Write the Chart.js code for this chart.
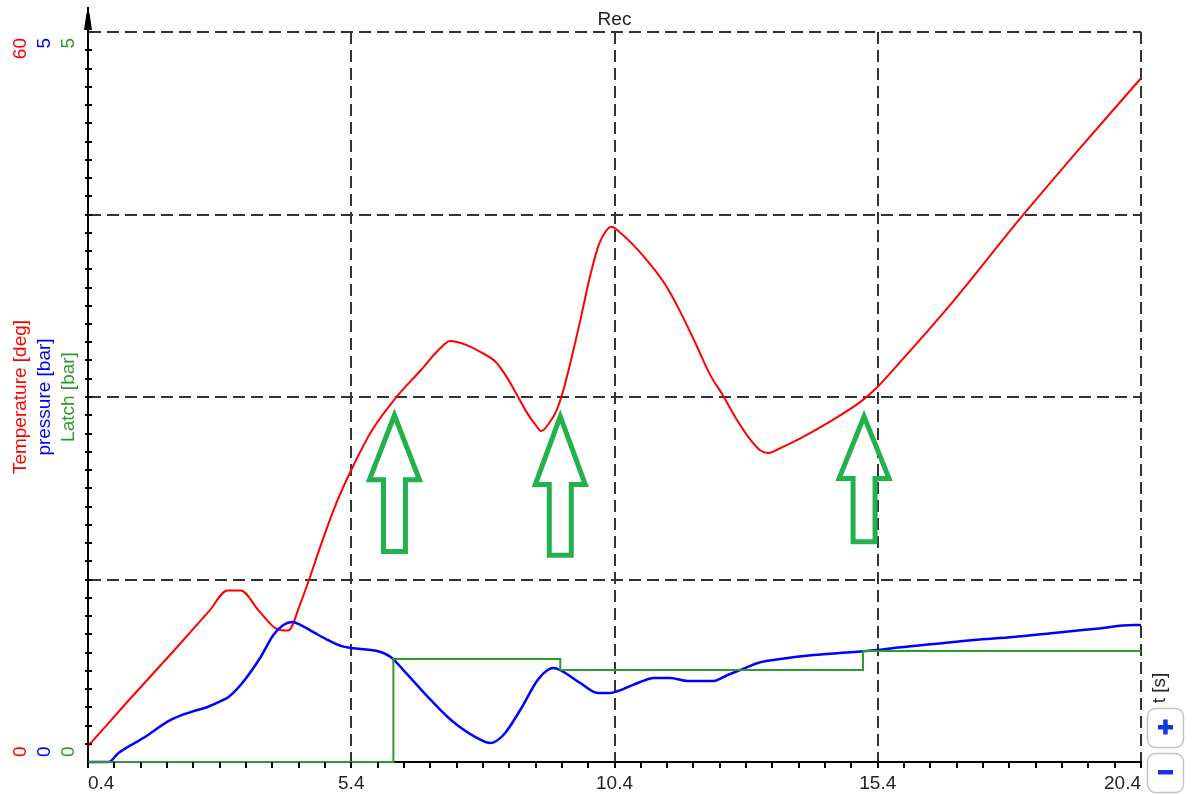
<!DOCTYPE html>
<html>
<head>
<meta charset="utf-8">
<script src="https://cdn.jsdelivr.net/npm/chart.js@4.4.0/dist/chart.umd.min.js"></script>
<style>
  html, body { margin: 0; padding: 0; background: #fff; overflow: hidden; }
  canvas { display: block; }
</style>
</head>
<body>
<canvas id="rec" width="1194" height="794"></canvas>
<script>
// Recorded channels: time in seconds
const tempTime = [0.4, 1.2, 2.0, 2.7, 3.05, 3.3, 3.65, 4.0, 4.2, 4.44, 4.6, 4.82, 5.1, 5.4, 5.8, 6.24,
  6.72, 7.09, 7.28, 7.57, 7.85, 8.14, 8.33, 8.52, 8.71, 8.9, 9.01, 9.15, 9.3, 9.43, 9.6, 9.75, 9.94,
  10.1, 10.23, 10.34, 10.51, 10.8, 11.08, 11.37, 11.65, 11.94, 12.22, 12.45, 12.7, 12.98, 13.17, 13.32,
  13.55, 13.93, 14.5, 15.07, 15.39, 15.83, 16.78, 18.11, 19.25, 20.4];
const tempValues = [1.3, 5.2, 9.0, 12.4, 14.1, 14.1, 12.4, 10.9, 10.8, 13.1, 15.0, 17.8, 21.1, 24.0, 27.3, 29.9,
  32.2, 34.0, 34.6, 34.3, 33.7, 32.9, 31.8, 30.4, 28.9, 27.7, 27.2, 27.8, 28.9, 30.6, 33.5, 36.3, 40.0,
  42.5, 43.6, 44.0, 43.5, 42.3, 40.9, 39.2, 37.0, 34.4, 31.8, 30.2, 28.3, 26.5, 25.6, 25.4,
  25.8, 26.6, 28.0, 29.6, 30.8, 32.9, 37.6, 44.7, 50.5, 56.2];

const pressTime = [0.4, 0.79, 0.98, 1.45, 1.97, 2.35, 2.67, 2.97, 3.07, 3.33, 3.68, 3.92, 4.11, 4.28, 4.44,
  4.68, 4.95, 5.2, 5.39, 5.58, 5.96, 6.15, 6.39, 6.91, 7.34, 7.86, 8.04, 8.29, 8.61, 8.94, 9.13, 9.24,
  9.37, 9.75, 10.08, 10.32, 10.46, 10.89, 11.14, 11.46, 11.79, 12.28, 12.55, 12.93, 13.12, 13.55, 14.18,
  14.94, 15.39, 15.7, 16.46, 17.22, 17.98, 18.74, 19.5, 20.26, 20.4];
const pressValues = [0, 0, 0.062, 0.164, 0.288, 0.342, 0.377, 0.425, 0.445, 0.541, 0.719, 0.87, 0.938, 0.959, 0.938,
  0.89, 0.836, 0.795, 0.781, 0.774, 0.753, 0.719, 0.63, 0.425, 0.274, 0.151, 0.13, 0.185, 0.356, 0.562, 0.63, 0.644,
  0.63, 0.541, 0.473, 0.473, 0.486, 0.548, 0.575, 0.575, 0.555, 0.555, 0.596, 0.651, 0.678, 0.705, 0.733,
  0.753, 0.767, 0.781, 0.808, 0.836, 0.856, 0.884, 0.911, 0.938, 0.938];

const latchTime = [0.4, 6.2, 9.37, 15.12, 20.4];
const latchValues = [0, 0.705, 0.63, 0.76, 0.76];

// Axis ticks
const timeTicks = [0.4, 5.4, 10.4, 15.4, 20.4];
const tempTicks = [0, 60];
const barTicks = [0, 5];

// Hollow arrow markers (time, temperature of tip / neck / tail)
const markerTime = [6.22, 9.37, 15.14];
const markerTip = [28.5, 28.4, 28.4];
const markerNeck = [23.2, 22.8, 23.3];
const markerTail = [17.3, 17.0, 18.1];

const FONT = '"Liberation Sans", Arial, sans-serif';
const RED = '#ff0000', BLUE = '#0000ff', GREEN = '#2e9a2e';

const pairs = (xs, ys) => xs.map((x, i) => ({ x, y: ys[i] }));

const decor = {
  id: 'decor',
  afterDraw(chart) {
    const { ctx, chartArea: a, scales } = chart;
    const xs = scales.x, yT = scales.yT, yP = scales.yP;
    ctx.save();

    // minor ticks on the time axis (every 0.5 s)
    ctx.strokeStyle = '#000';
    ctx.lineWidth = 2;
    ctx.beginPath();
    for (let i = 0; i <= 40; i++) {
      const px = Math.round(xs.getPixelForValue(timeTicks[0] + i * 0.5));
      ctx.moveTo(px, a.bottom);
      ctx.lineTo(px, a.bottom + 6);
    }
    // minor ticks on the value axis (10 per division)
    for (let i = 1; i < 40; i++) {
      const py = Math.round(yT.getPixelForValue(i * 1.5));
      ctx.moveTo(a.left - 3, py);
      ctx.lineTo(a.left + 4, py);
    }
    ctx.stroke();

    // arrow at the top of the value axis
    ctx.fillStyle = '#000';
    ctx.fillRect(a.left - 1, 7, 2, a.top - 7);
    ctx.beginPath();
    ctx.moveTo(a.left - 1.5, 13);
    ctx.lineTo(a.left + 1.5, 13);
    ctx.lineTo(a.left + 4, 30);
    ctx.lineTo(a.left - 4, 30);
    ctx.closePath();
    ctx.fill();

    // stacked vertical axis captions and end values
    const cols = [
      { x: 21, color: RED, title: 'Temperature [deg]', scale: yT, ticks: tempTicks },
      { x: 45, color: BLUE, title: 'pressure [bar]', scale: yP, ticks: barTicks },
      { x: 69, color: GREEN, title: 'Latch [bar]', scale: yP, ticks: barTicks }
    ];
    ctx.font = '19px ' + FONT;
    ctx.textBaseline = 'middle';
    const midY = (a.top + a.bottom) / 2;
    for (const c of cols) {
      ctx.fillStyle = c.color;
      const lo = c.scale.getPixelForValue(c.ticks[0]);
      const hi = c.scale.getPixelForValue(c.ticks[1]);
      const items = [
        { y: hi + 6, align: 'right', text: String(c.ticks[1]) },
        { y: lo - 5, align: 'left', text: String(c.ticks[0]) },
        { y: midY, align: 'center', text: c.title }
      ];
      for (const it of items) {
        ctx.save();
        ctx.translate(c.x, it.y);
        ctx.rotate(-Math.PI / 2);
        ctx.textAlign = it.align;
        ctx.fillText(it.text, 0, 0);
        ctx.restore();
      }
    }

    // time axis caption
    ctx.fillStyle = '#222';
    ctx.save();
    ctx.translate(1160, 688);
    ctx.rotate(-Math.PI / 2);
    ctx.textAlign = 'center';
    ctx.fillText('t [s]', 0, 0);
    ctx.restore();

    // zoom buttons
    const btn = (y, h) => {
      ctx.beginPath();
      ctx.roundRect(1147.5, y + 0.5, 36, h, 8);
      ctx.fillStyle = '#fff';
      ctx.fill();
      ctx.strokeStyle = '#c4c4c4';
      ctx.lineWidth = 1.5;
      ctx.stroke();
    };
    btn(708, 39);
    btn(753, 39);
    ctx.fillStyle = '#1436e0';
    ctx.fillRect(1158, 725, 15, 4.5);
    ctx.fillRect(1163.2, 719.5, 4.5, 15);
    ctx.fillRect(1158, 770, 15, 4.5);

    // hollow arrow markers
    ctx.strokeStyle = '#22b14c';
    ctx.lineWidth = 5;
    ctx.lineJoin = 'miter';
    for (let i = 0; i < markerTime.length; i++) {
      const cx = xs.getPixelForValue(markerTime[i]);
      const yt = yT.getPixelForValue(markerTip[i]);
      const yn = yT.getPixelForValue(markerNeck[i]);
      const yb = yT.getPixelForValue(markerTail[i]);
      const hw = 25, sw = 11;
      ctx.beginPath();
      ctx.moveTo(cx, yt);
      ctx.lineTo(cx + hw, yn);
      ctx.lineTo(cx + sw, yn);
      ctx.lineTo(cx + sw, yb);
      ctx.lineTo(cx - sw, yb);
      ctx.lineTo(cx - sw, yn);
      ctx.lineTo(cx - hw, yn);
      ctx.closePath();
      ctx.stroke();
    }
    ctx.restore();
  }
};

new Chart(document.getElementById('rec'), {
  type: 'line',
  data: {
    datasets: [
      {
        label: 'Latch [bar]',
        data: pairs(latchTime, latchValues),
        yAxisID: 'yP',
        borderColor: GREEN,
        borderWidth: 2,
        stepped: 'before',
        pointRadius: 0,
        clip: 4
      },
      {
        label: 'pressure [bar]',
        data: pairs(pressTime, pressValues),
        yAxisID: 'yP',
        borderColor: BLUE,
        borderWidth: 2.5,
        cubicInterpolationMode: 'monotone',
        pointRadius: 0,
        clip: 4
      },
      {
        label: 'Temperature [deg]',
        data: pairs(tempTime, tempValues),
        yAxisID: 'yT',
        borderColor: RED,
        borderWidth: 2,
        cubicInterpolationMode: 'monotone',
        pointRadius: 0,
        clip: 4
      }
    ]
  },
  options: {
    responsive: false,
    animation: false,
    devicePixelRatio: 1,
    events: [],
    layout: { padding: { left: 88, right: 53, top: 0, bottom: 0 } },
    plugins: {
      legend: { display: false },
      tooltip: { enabled: false },
      title: {
        display: true,
        text: 'Rec',
        color: '#222',
        font: { family: FONT, size: 19, weight: 'normal' },
        padding: { top: 8, bottom: 1.2 }
      }
    },
    scales: {
      x: {
        type: 'linear',
        min: timeTicks[0],
        max: timeTicks[timeTicks.length - 1],
        afterBuildTicks: s => { s.ticks = timeTicks.map(v => ({ value: v })); },
        afterFit: s => { s.height = 32; },
        grid: { color: '#333', lineWidth: 2, drawTicks: false },
        border: { display: true, color: '#000', width: 2, dash: [12, 6] },
        ticks: {
          align: 'inner',
          padding: 10,
          color: '#222',
          font: { family: FONT, size: 19 },
          maxRotation: 0,
          callback: v => Number(v).toFixed(1)
        }
      },
      yT: {
        type: 'linear',
        position: 'left',
        min: tempTicks[0],
        max: tempTicks[1],
        ticks: { display: false, stepSize: 15 },
        afterFit: s => { s.width = 0; },
        grid: { color: '#333', lineWidth: 2, drawTicks: false },
        border: { display: true, color: '#000', width: 2, dash: [12, 6] }
      },
      yP: {
        type: 'linear',
        position: 'left',
        display: false,
        min: barTicks[0],
        max: barTicks[1]
      }
    }
  },
  plugins: [decor]
});
</script>
</body>
</html>
